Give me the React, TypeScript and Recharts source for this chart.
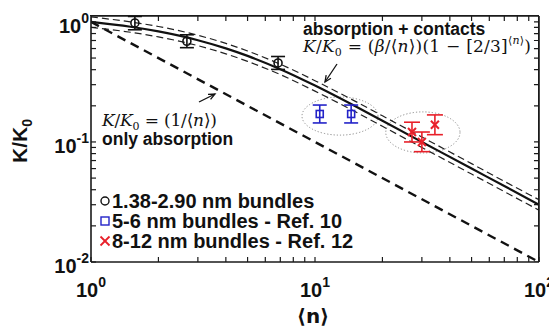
import React from 'react';
import { ComposedChart, Line, Scatter, XAxis, YAxis, ErrorBar, ReferenceArea } from 'recharts';

// ---- data ----
const CURVE_N = [1, 1.5, 2, 3, 4, 5, 7, 10, 15, 20, 30, 50, 70, 100];
const CURVE_FIT = [1.0, 0.911, 0.833, 0.704, 0.602, 0.521, 0.404, 0.295, 0.2, 0.15, 0.1, 0.06, 0.043, 0.03];
const CURVE_UPPER = [1.1, 1.0, 0.916, 0.774, 0.662, 0.573, 0.444, 0.324, 0.22, 0.165, 0.11, 0.066, 0.047, 0.033];
const CURVE_LOWER = [0.9, 0.82, 0.75, 0.634, 0.542, 0.469, 0.364, 0.265, 0.18, 0.135, 0.09, 0.054, 0.0386, 0.027];

const ABS_N = [1, 10, 100];
const ABS_K = [1, 0.1, 0.01];

const SMALL_N = [1.57, 2.68, 6.84];
const SMALL_K = [0.98, 0.69, 0.455];
const SMALL_ERR = [[0.12, 0.13], [0.08, 0.091], [0.053, 0.06]];

const MID_N = [10.5, 14.5];
const MID_K = [0.171, 0.171];
const MID_ERR = [[0.027, 0.032], [0.027, 0.032]];

const BIG_N = [27.1, 30.0, 34.3];
const BIG_K = [0.121, 0.1, 0.139];
const BIG_ERR = [[0.021, 0.025], [0.017, 0.021], [0.024, 0.029]];

const MID_GROUP = { x1: 8.75, x2: 19.1, y1: 0.114, y2: 0.237 };
const BIG_GROUP = { x1: 20.7, x2: 44.4, y1: 0.081, y2: 0.178 };

const X_DOMAIN = [1, 100];
const Y_DOMAIN = [0.01, 1.12];
const X_TICKS = [1, 10, 100];
const X_TICK_EXP = ['0', '1', '2'];
const Y_TICKS = [0.01, 0.1, 1];
const Y_TICK_EXP = ['-2', '-1', '0'];
const X_ALL_TICKS = [1, 2, 3, 4, 5, 6, 7, 8, 9, 10, 20, 30, 40, 50, 60, 70, 80, 90, 100];
const Y_ALL_TICKS = [0.01, 0.02, 0.03, 0.04, 0.05, 0.06, 0.07, 0.08, 0.09, 0.1, 0.2, 0.3, 0.4, 0.5, 0.6, 0.7, 0.8, 0.9, 1];

const SERIES_NAMES = ['1.38-2.90 nm bundles', '5-6 nm bundles - Ref. 10', '8-12 nm bundles - Ref. 12'];
const SERIES_COLORS = ['#111111', '#2323c8', '#e8202a'];

// tick length of the top / right frame ticks, as a ratio on the log axes (about 5 px)
const TOP_TICK_RATIO = 1.1;
const RIGHT_TICK_RATIO = 1.053;

// ---- tables built from arrays ----
const curveFit = CURVE_N.map((x, i) => ({ x, y: CURVE_FIT[i] }));
const curveUp = CURVE_N.map((x, i) => ({ x, y: CURVE_UPPER[i] }));
const curveLo = CURVE_N.map((x, i) => ({ x, y: CURVE_LOWER[i] }));
const absData = ABS_N.map((x, i) => ({ x, y: ABS_K[i] }));
const smallData = SMALL_N.map((x, i) => ({ x, y: SMALL_K[i], err: SMALL_ERR[i] }));
const midData = MID_N.map((x, i) => ({ x, y: MID_K[i], err: MID_ERR[i] }));
const bigData = BIG_N.map((x, i) => ({ x, y: BIG_K[i], err: BIG_ERR[i] }));

const topTicks = X_ALL_TICKS.flatMap((v) => [
  { x: v, y: Y_DOMAIN[1] }, { x: v, y: Y_DOMAIN[1] / TOP_TICK_RATIO }, { x: v, y: null },
]);
const rightTicks = Y_ALL_TICKS.flatMap((v) => [
  { x: X_DOMAIN[1], y: v }, { x: X_DOMAIN[1] / RIGHT_TICK_RATIO, y: v }, { x: X_DOMAIN[1], y: null },
]);

const SANS = 'Liberation Sans, Arial, Helvetica, sans-serif';
const SERIF = 'DejaVu Serif, Liberation Serif, serif';
const AX = '#1a1a1a';
const TICK_IN = -5; // negative size: tick marks point into the plot

// chart box
const W = 549, H = 320;
const M = { top: 8, right: 18, bottom: 26, left: 23 };
const X_AXIS_H = 40, Y_AXIS_W = 60;
const PLOT = { x: M.left + Y_AXIS_W, y: M.top, w: W - M.left - M.right - Y_AXIS_W, h: H - M.top - M.bottom - X_AXIS_H };

const XTick = (p: any) => {
  const i = X_TICKS.indexOf(p.payload.value);
  if (i < 0) return <g />;
  return (
    <text x={p.x} y={p.y + 40} textAnchor="middle" fontFamily={SANS} fontWeight="bold" fontSize={20} fill="#111">
      <tspan>10</tspan>
      <tspan dy={-10} fontSize={14}>{X_TICK_EXP[i]}</tspan>
    </text>
  );
};

const YTick = (p: any) => {
  const i = Y_TICKS.indexOf(p.payload.value);
  if (i < 0) return <g />;
  return (
    <text x={p.x - 7} y={p.y + 11} textAnchor="end" fontFamily={SANS} fontWeight="bold" fontSize={20} fill="#111">
      <tspan>10</tspan>
      <tspan dy={-10} fontSize={14}>{Y_TICK_EXP[i]}</tspan>
    </text>
  );
};

const Circle = (p: any) => <circle cx={p.cx} cy={p.cy} r={4} fill="none" stroke={SERIES_COLORS[0]} strokeWidth={1.6} />;
const Square = (p: any) => <rect x={p.cx - 3.5} y={p.cy - 3.5} width={7} height={7} fill="none" stroke={SERIES_COLORS[1]} strokeWidth={1.6} />;
const Cross = (p: any) => (
  <g stroke={SERIES_COLORS[2]} strokeWidth={2}>
    <line x1={p.cx - 4} y1={p.cy - 4} x2={p.cx + 4} y2={p.cy + 4} />
    <line x1={p.cx - 4} y1={p.cy + 4} x2={p.cx + 4} y2={p.cy - 4} />
  </g>
);

const Ellipse = (p: any) => (
  <ellipse cx={p.x + p.width / 2} cy={p.y + p.height / 2} rx={Math.abs(p.width) / 2} ry={Math.abs(p.height) / 2}
    fill="none" stroke="#8a8a8a" strokeWidth={1} strokeDasharray="1.2 2" />
);

const Arrow = ({ x1, y1, x2, y2 }: any) => {
  const a = Math.atan2(y2 - y1, x2 - x1);
  const L = 7, w = 0.42;
  return (
    <g stroke="#111" strokeWidth={1.3} fill="none">
      <line x1={x1} y1={y1} x2={x2} y2={y2} />
      <polyline points={`${x2 - L * Math.cos(a - w)},${y2 - L * Math.sin(a - w)} ${x2},${y2} ${x2 - L * Math.cos(a + w)},${y2 - L * Math.sin(a + w)}`} />
    </g>
  );
};

// top and right edges of the box, drawn like the arrows (plain lines in a group)
const Frame = () => (
  <g stroke={AX} strokeWidth={1.6} fill="none">
    <line x1={PLOT.x} y1={PLOT.y} x2={PLOT.x + PLOT.w} y2={PLOT.y} />
    <line x1={PLOT.x + PLOT.w} y1={PLOT.y} x2={PLOT.x + PLOT.w} y2={PLOT.y + PLOT.h} />
  </g>
);

const LEGEND_ICONS = [
  (cx: number, cy: number) => <circle cx={cx} cy={cy} r={4} fill="none" stroke={SERIES_COLORS[0]} strokeWidth={1.4} />,
  (cx: number, cy: number) => <rect x={cx - 4} y={cy - 4} width={8} height={8} fill="none" stroke={SERIES_COLORS[1]} strokeWidth={1.4} />,
  (cx: number, cy: number) => (
    <g stroke={SERIES_COLORS[2]} strokeWidth={1.8}>
      <line x1={cx - 4.5} y1={cy - 4.5} x2={cx + 4.5} y2={cy + 4.5} />
      <line x1={cx - 4.5} y1={cy + 4.5} x2={cx + 4.5} y2={cy - 4.5} />
    </g>
  ),
];

export default function App() {
  return (
    <div style={{ position: 'relative', width: W, height: H }}>
      <ComposedChart width={W} height={H} margin={M}>
        <XAxis xAxisId="x" dataKey="x" type="number" scale="log" domain={X_DOMAIN} allowDataOverflow ticks={X_ALL_TICKS}
          orientation="bottom" height={X_AXIS_H} tickSize={TICK_IN} tickMargin={0} interval={0}
          tickLine={{ stroke: AX, strokeWidth: 1.2 }}
          axisLine={{ stroke: AX, strokeWidth: 1.6 }} tick={(p: any) => <XTick {...p} />} />
        <YAxis yAxisId="y" dataKey="y" type="number" scale="log" domain={Y_DOMAIN} allowDataOverflow ticks={Y_ALL_TICKS}
          orientation="left" width={Y_AXIS_W} tickSize={TICK_IN} tickMargin={0} interval={0}
          tickLine={{ stroke: AX, strokeWidth: 1.2 }}
          axisLine={{ stroke: AX, strokeWidth: 1.6 }} tick={(p: any) => <YTick {...p} />} />

        <Frame />
        <Line xAxisId="x" yAxisId="y" data={topTicks} dataKey="y" type="linear" stroke={AX} strokeWidth={1.2}
          dot={false} connectNulls={false} isAnimationActive={false} legendType="none" />
        <Line xAxisId="x" yAxisId="y" data={rightTicks} dataKey="y" type="linear" stroke={AX} strokeWidth={1.2}
          dot={false} connectNulls={false} isAnimationActive={false} legendType="none" />

        <ReferenceArea xAxisId="x" yAxisId="y" x1={MID_GROUP.x1} x2={MID_GROUP.x2} y1={MID_GROUP.y1} y2={MID_GROUP.y2} shape={Ellipse} ifOverflow="visible" />
        <ReferenceArea xAxisId="x" yAxisId="y" x1={BIG_GROUP.x1} x2={BIG_GROUP.x2} y1={BIG_GROUP.y1} y2={BIG_GROUP.y2} shape={Ellipse} ifOverflow="visible" />

        <Line xAxisId="x" yAxisId="y" data={absData} dataKey="y" type="linear" stroke="#111" strokeWidth={2.4}
          strokeDasharray="9 6" dot={false} isAnimationActive={false} legendType="none" />
        <Line xAxisId="x" yAxisId="y" data={curveUp} dataKey="y" type="monotone" stroke="#222" strokeWidth={1.2}
          strokeDasharray="7 4" dot={false} isAnimationActive={false} legendType="none" />
        <Line xAxisId="x" yAxisId="y" data={curveLo} dataKey="y" type="monotone" stroke="#222" strokeWidth={1.2}
          strokeDasharray="7 4" dot={false} isAnimationActive={false} legendType="none" />
        <Line xAxisId="x" yAxisId="y" data={curveFit} dataKey="y" type="monotone" stroke="#111" strokeWidth={2.2}
          dot={false} isAnimationActive={false} legendType="none" />

        <Scatter xAxisId="x" yAxisId="y" name={SERIES_NAMES[0]} data={smallData} dataKey="y" shape={Circle} isAnimationActive={false}>
          <ErrorBar dataKey="err" direction="y" width={7} stroke={SERIES_COLORS[0]} strokeWidth={1.6} />
        </Scatter>
        <Scatter xAxisId="x" yAxisId="y" name={SERIES_NAMES[1]} data={midData} dataKey="y" shape={Square} isAnimationActive={false}>
          <ErrorBar dataKey="err" direction="y" width={7} stroke={SERIES_COLORS[1]} strokeWidth={1.6} />
        </Scatter>
        <Scatter xAxisId="x" yAxisId="y" name={SERIES_NAMES[2]} data={bigData} dataKey="y" shape={Cross} isAnimationActive={false}>
          <ErrorBar dataKey="err" direction="y" width={8} stroke={SERIES_COLORS[2]} strokeWidth={1.6} />
        </Scatter>

        {/* annotations */}
        <text x={295} y={27} fontFamily={SANS} fontWeight="bold" fontSize={17.5} fill="#111">absorption + contacts</text>
        <text x={295} y={44} fontFamily={SERIF} fontSize={17} fill="#111" textLength={228} lengthAdjust="spacing">
          <tspan fontStyle="italic">K</tspan><tspan>/</tspan><tspan fontStyle="italic">K</tspan>
          <tspan dy={4} fontSize={11}>0</tspan>
          <tspan dy={-4}> = (</tspan><tspan fontStyle="italic">β</tspan><tspan>/⟨</tspan><tspan fontStyle="italic">n</tspan>
          <tspan>⟩)(1 − [2/3]</tspan>
          <tspan dy={-8} fontSize={11}>⟨</tspan><tspan fontSize={11} fontStyle="italic">n</tspan><tspan fontSize={11}>⟩</tspan>
          <tspan dy={8}>)</tspan>
        </text>
        <Arrow x1={329} y1={56} x2={317} y2={74} />

        <text x={94} y={118} fontFamily={SERIF} fontSize={17} fill="#111" textLength={115} lengthAdjust="spacing">
          <tspan fontStyle="italic">K</tspan><tspan>/</tspan><tspan fontStyle="italic">K</tspan>
          <tspan dy={4} fontSize={11}>0</tspan>
          <tspan dy={-4}> = (1/⟨</tspan><tspan fontStyle="italic">n</tspan><tspan>⟩)</tspan>
        </text>
        <text x={94} y={137} fontFamily={SANS} fontWeight="bold" fontSize={17.5} fill="#111">only absorption</text>
        <Arrow x1={191} y1={94} x2={207} y2={86} />

        {/* legend */}
        {SERIES_NAMES.map((name, i) => (
          <g key={name}>
            {LEGEND_ICONS[i](97, 193 + i * 20)}
            <text x={104} y={199.5 + i * 20} fontFamily={SANS} fontWeight="bold" fontSize={20} fill="#111">{name}</text>
          </g>
        ))}

        {/* axis titles */}
        <text x={19} y={133} transform="rotate(-90, 19, 133)" textAnchor="middle" fontFamily={SANS} fontWeight="bold" fontSize={21} fill="#111">
          <tspan>K/K</tspan><tspan dy={5} fontSize={14}>0</tspan>
        </text>
        <text x={305} y={315} textAnchor="middle" fontFamily="DejaVu Sans, Liberation Sans, sans-serif" fontWeight="bold" fontSize={20} fill="#111">⟨n⟩</text>
      </ComposedChart>
      {/* fallback outline of the plot box, in case the SVG frame is not drawn */}
      <div style={{
        position: 'absolute', left: PLOT.x - 0.8, top: PLOT.y - 0.8, width: PLOT.w, height: PLOT.h,
        borderTop: `1.6px solid ${AX}`, borderRight: `1.6px solid ${AX}`, pointerEvents: 'none',
      }} />
    </div>
  );
}
